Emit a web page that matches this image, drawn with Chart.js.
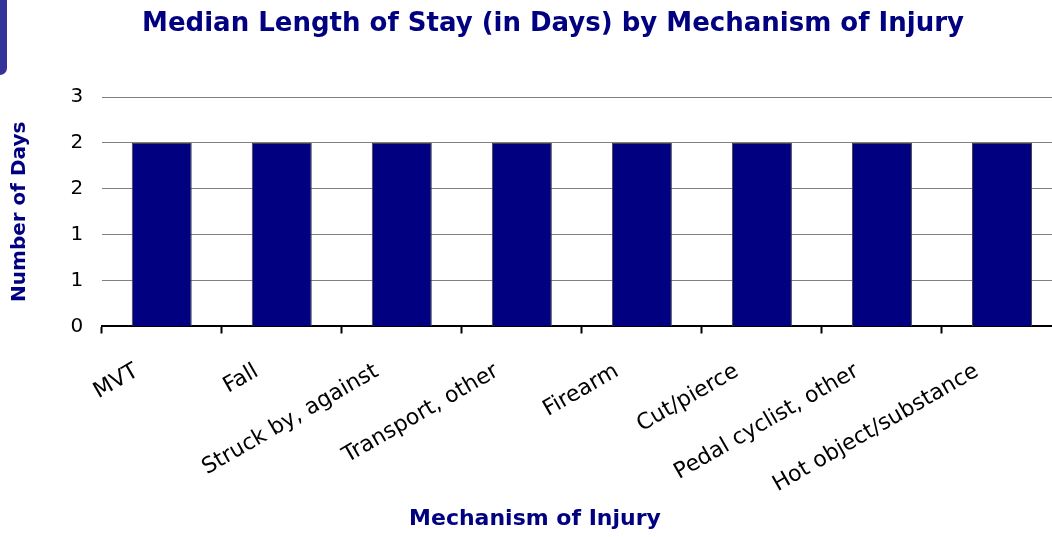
<!DOCTYPE html>
<html>
<head>
<meta charset="utf-8">
<script src="https://cdn.jsdelivr.net/npm/chart.js@4.4.0/dist/chart.umd.min.js"></script>
<style>
    html, body { margin: 0; padding: 0; background: #fff; overflow: hidden; }
    #wrap { position: relative; width: 1106px; height: 537px; }
    #tab { position: absolute; left: 0; top: 0; width: 7px; height: 75px; background: #333399; border-bottom-right-radius: 7px; z-index: 2; }
    .caption { position: absolute; left: 0; text-align: center; color: #000080; font-family: "DejaVu Sans", sans-serif; font-weight: bold; white-space: nowrap; }
    #title { top: 7px; width: 1106px; font-size: 26px; line-height: 30px; }
    #x-title { top: 505px; width: 1070px; font-size: 22px; line-height: 26px; }
</style>
</head>
<body>
<div id="wrap">
    <div id="tab"></div>
    <div id="title" class="caption">Median Length of Stay (in Days) by Mechanism of Injury</div>
    <div id="x-title" class="caption">Mechanism of Injury</div>
    <canvas id="los-chart" width="1106" height="537"></canvas>
</div>
<script>
    // Chart data
    var mechanisms = ["MVT", "Fall", "Struck by, against", "Transport, other", "Firearm", "Cut/pierce", "Pedal cyclist, other", "Hot object/substance"];
    var medianDays = [2, 2, 2, 2, 2, 2, 2, 2];
    var yMax = 2.5;
    var yStep = 0.5;

    var navy = "#000080";

    var ctx = document.getElementById("los-chart").getContext("2d");
    var losChart = new Chart(ctx, {
        type: "bar",
        data: {
            labels: mechanisms,
            datasets: [{
                label: "Median LOS",
                data: medianDays,
                backgroundColor: navy,
                borderColor: "#444444",
                borderWidth: 1,
                barPercentage: 1,
                categoryPercentage: 0.5
            }]
        },
        options: {
            responsive: false,
            animation: false,
            layout: {
                // canvas is wider than the window so the plot runs off the right edge like the original
                padding: { left: 8, right: 44, top: 97, bottom: 14 }
            },
            plugins: {
                legend: { display: false },
                tooltip: { enabled: false },
                title: { display: false }
            },
            scales: {
                x: {
                    grid: {
                        offset: true,
                        drawOnChartArea: false,
                        drawTicks: true,
                        tickLength: 7,
                        tickColor: "#000",
                        tickWidth: 2
                    },
                    border: { display: true, color: "#000", width: 2 },
                    ticks: {
                        color: "#000",
                        font: { family: "DejaVu Sans", size: 22 },
                        minRotation: 30,
                        maxRotation: 30,
                        padding: 25,
                        labelOffset: -25
                    }
                },
                y: {
                    min: 0,
                    max: yMax,
                    grid: {
                        color: "#808080",
                        lineWidth: 1,
                        drawTicks: false
                    },
                    border: { display: false },
                    ticks: {
                        stepSize: yStep,
                        color: "#000",
                        font: { family: "DejaVu Sans", size: 20 },
                        padding: 18.5,
                        callback: function (value) {
                            return Math.round(value);
                        }
                    },
                    title: {
                        display: true,
                        text: "Number of Days",
                        color: navy,
                        font: { family: "DejaVu Sans", size: 20, weight: "bold" },
                        padding: { top: 0, bottom: 20 }
                    }
                }
            }
        }
    });
</script>
</body>
</html>
